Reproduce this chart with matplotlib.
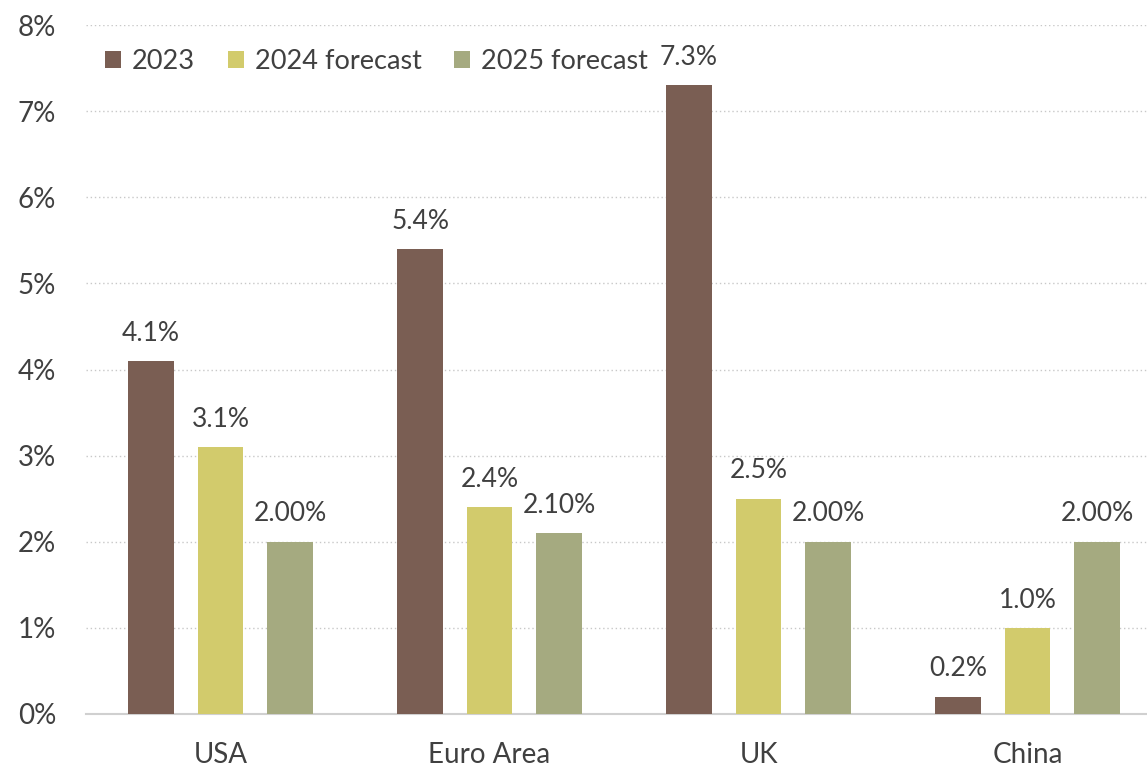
import matplotlib.pyplot as plt
import numpy as np

plt.rcParams["font.family"] = ["Lato", "DejaVu Sans"]

# data
countries = ["USA", "Euro Area", "UK", "China"]
series_names = ["2023", "2024 forecast", "2025 forecast"]
vals_2023 = [4.1, 5.4, 7.3, 0.2]
vals_2024 = [3.1, 2.4, 2.5, 1.0]
vals_2025 = [2.0, 2.1, 2.0, 2.0]
label_fmt = ["{:.1f}%", "{:.1f}%", "{:.2f}%"]

colors = ["#7A5E53", "#D2CB6C", "#A5AA80"]
text_color = "#404040"

fig = plt.figure(figsize=(11.47, 7.68), dpi=100)
ax = fig.add_axes([86 / 1147, 54 / 768, 1076 / 1147, 689 / 768])

x = np.arange(len(countries))
width = 0.171
offset = 0.258

for i, (name, vals) in enumerate(zip(series_names, [vals_2023, vals_2024, vals_2025])):
    pos = x + (i - 1) * offset
    bars = ax.bar(pos, vals, width, color=colors[i], label=name, zorder=3)
    for bar, v in zip(bars, vals):
        ax.annotate(label_fmt[i].format(v),
                    (bar.get_x() + bar.get_width() / 2, v),
                    xytext=(0, 11), textcoords="offset points",
                    ha="center", va="bottom", fontsize=19, color=text_color)

ax.set_xlim(-0.5, 3.5)
ax.set_ylim(0, 8)
ax.set_yticks(range(0, 9))
ax.set_yticklabels([f"{v}%" for v in range(0, 9)])
ax.set_xticks(x)
ax.set_xticklabels(countries)
ax.tick_params(axis="both", length=0, labelsize=20, colors=text_color)
ax.tick_params(axis="x", pad=20)
ax.tick_params(axis="y", pad=49)
for lbl in ax.get_yticklabels():
    lbl.set_horizontalalignment("left")

ax.grid(axis="y", color="#C8C8C8", linestyle=(0, (1, 2)), linewidth=1, zorder=0)
for side in ["top", "right", "left"]:
    ax.spines[side].set_visible(False)
ax.spines["bottom"].set_color("#D0D0D0")
ax.spines["bottom"].set_linewidth(1.5)

leg = ax.legend(loc="upper left", bbox_to_anchor=(0.0, 0.993), ncol=3,
                frameon=False, fontsize=19.5, handlelength=0.6, handleheight=0.6,
                handletextpad=0.4, columnspacing=1.2, borderaxespad=0.3)
for t in leg.get_texts():
    t.set_color(text_color)

fig.savefig("out.png", dpi=100)
